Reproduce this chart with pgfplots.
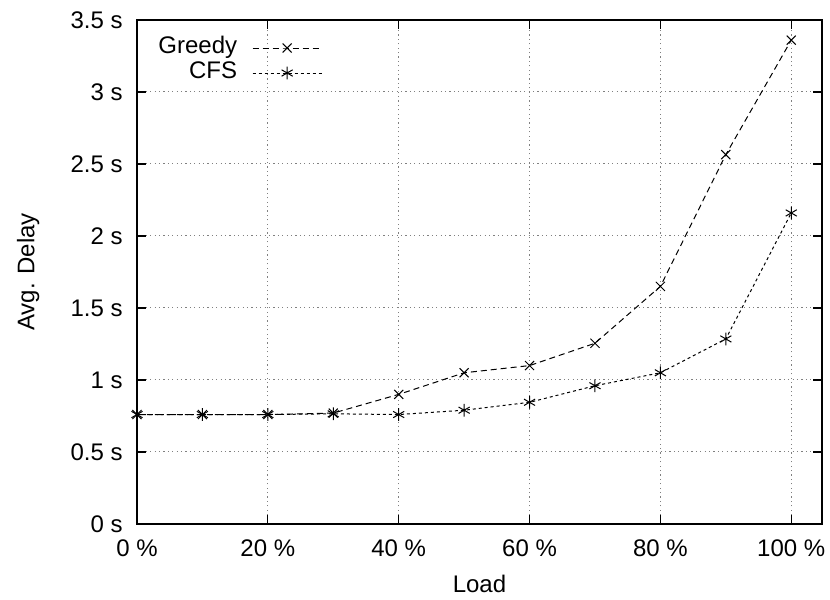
\documentclass[border=0pt]{standalone}
\usepackage{fontspec}
\setmainfont{Liberation Sans}
\usepackage{pgfplots}
\pgfplotsset{compat=1.18}

\begin{document}
\begin{tikzpicture}
\begin{axis}[
    name=ax,
    scale only axis,
    width=342.5pt, height=252pt,
    xmin=0, xmax=104.7, ymin=0, ymax=3.5,
    xtick={0,20,...,100},
    xticklabels={0 \%,20 \%,40 \%,60 \%,80 \%,100 \%},
    ytick={0,0.5,...,3.5},
    yticklabels={0 s,0.5 s,1 s,1.5 s,2 s,2.5 s,3 s,3.5 s},
    tick align=inside, tick pos=both, major tick length=4.5pt,
    tick style={black, line width=0.6pt},
    grid=major,
    major grid style={gray, line width=0.5pt, dash pattern=on 0.6pt off 1.6pt},
    axis line style={line width=0.8pt},
    font=\fontsize{12}{14}\selectfont,
    xticklabel style={inner sep=0pt, yshift=-7.7pt},
    yticklabel style={inner sep=0pt, xshift=-7pt},
    xlabel={Load}, ylabel={Avg. Delay},
    every axis x label/.style={at={(axis description cs:0.5,-0.119)}, anchor=center},
    every axis y label/.style={at={(axis description cs:-0.159,0.5)}, rotate=90, anchor=center},
    legend plot pos=right,
    legend cell align=right,
    legend image code/.code={%
        \draw[mark repeat=2,mark phase=2] plot coordinates {(0pt,0pt) (17.25pt,0pt) (34.5pt,0pt)};},
    legend style={draw=none, fill=none, inner sep=0pt,
        at={(axis description cs:0.0307,0.970)}, anchor=north west,
        nodes={inner sep=0pt, text height=9pt, text depth=3.5pt},
        column sep=7.5pt, row sep=0pt, font=\fontsize{12}{14}\selectfont},
]
\addplot[black, line width=0.5pt, dash pattern=on 3pt off 2pt, mark=x, mark size=3.2pt,
    mark options={solid}] coordinates {
    (0,0.76) (10,0.76) (20,0.76) (30,0.77) (40,0.90) (50,1.05)
    (60,1.10) (70,1.255) (80,1.65) (90,2.565) (100,3.36)};
\addlegendentry{Greedy}
\addplot[black, line width=0.5pt, dash pattern=on 1.5pt off 1.5pt, mark=asterisk, mark size=3.2pt,
    mark options={solid}] coordinates {
    (0,0.76) (10,0.76) (20,0.76) (30,0.765) (40,0.76) (50,0.79)
    (60,0.845) (70,0.96) (80,1.05) (90,1.285) (100,2.16)};
\addlegendentry{CFS}
\end{axis}
\pgfresetboundingbox
\path ([shift={(-68.5pt,-38pt)}]ax.south west) rectangle ([shift={(4pt,10pt)}]ax.north east);
\end{tikzpicture}
\end{document}
